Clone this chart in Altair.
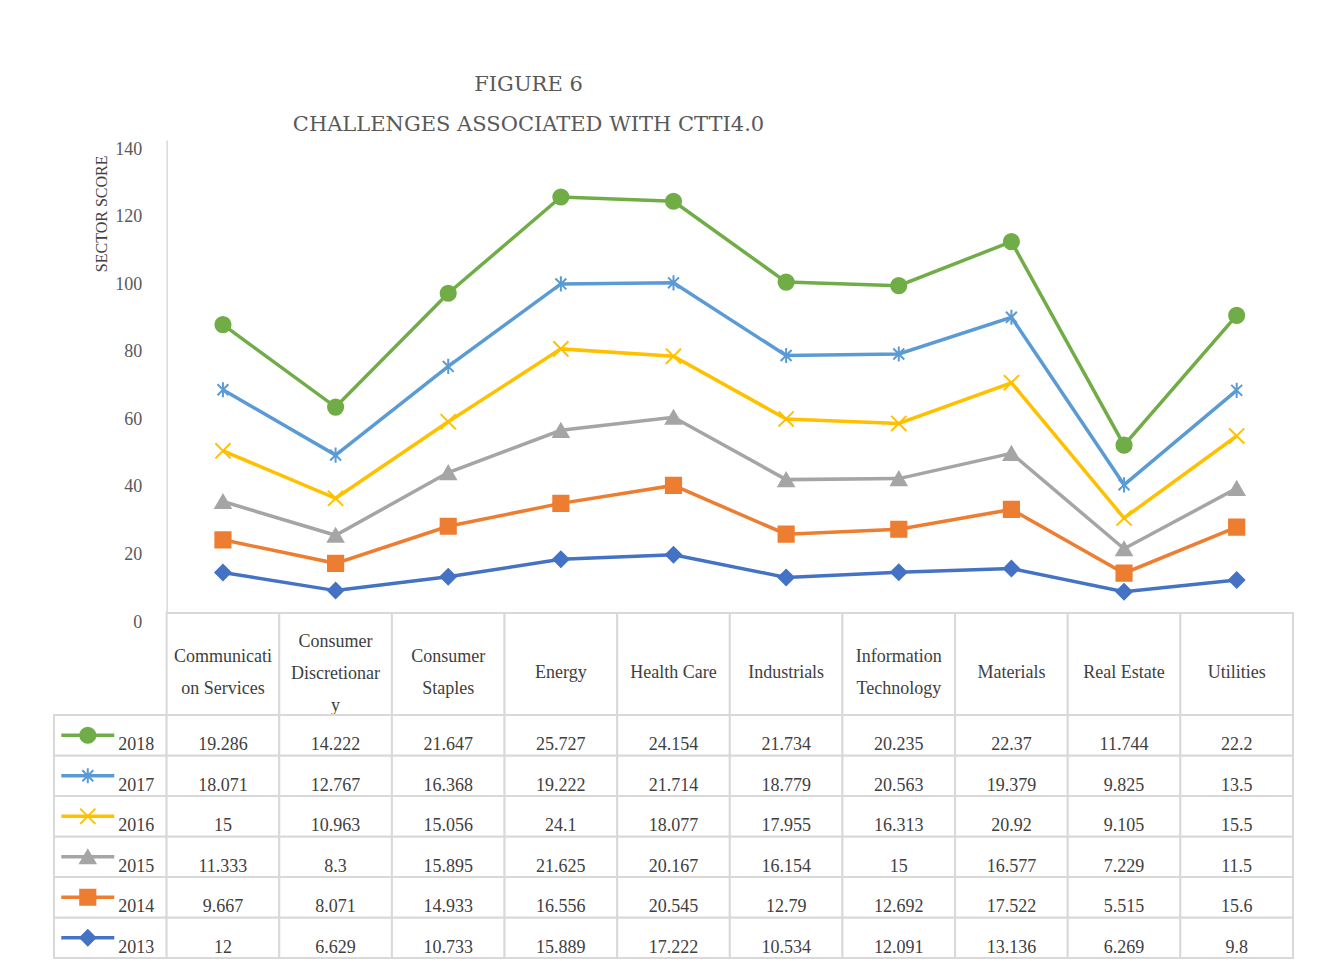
import altair as alt
import pandas as pd

sectors = ["Communication Services", "Consumer Discretionary", "Consumer Staples", "Energy",
           "Health Care", "Industrials", "Information Technology", "Materials", "Real Estate", "Utilities"]
header_labels = ["Communicati\non Services", "Consumer\nDiscretionar\ny", "Consumer\nStaples", "Energy",
                 "Health Care", "Industrials", "Information\nTechnology", "Materials", "Real Estate", "Utilities"]
years = ["2013", "2014", "2015", "2016", "2017", "2018"]
v2013 = [12, 6.629, 10.733, 15.889, 17.222, 10.534, 12.091, 13.136, 6.269, 9.8]
v2014 = [9.667, 8.071, 14.933, 16.556, 20.545, 12.79, 12.692, 17.522, 5.515, 15.6]
v2015 = [11.333, 8.3, 15.895, 21.625, 20.167, 16.154, 15, 16.577, 7.229, 11.5]
v2016 = [15, 10.963, 15.056, 24.1, 18.077, 17.955, 16.313, 20.92, 9.105, 15.5]
v2017 = [18.071, 12.767, 16.368, 19.222, 21.714, 18.779, 20.563, 19.379, 9.825, 13.5]
v2018 = [19.286, 14.222, 21.647, 25.727, 24.154, 21.734, 20.235, 22.37, 11.744, 22.2]
y_ticks = [0, 20, 40, 60, 80, 100, 120, 140]

colors = ["#4472c4", "#ed7d31", "#a5a5a5", "#ffc000", "#5b9bd5", "#70ad47"]
shapes = ["diamond", "square", "triangle-up",
          "M-1,-1L1,1M-1,1L1,-1",
          "M0,-1L0,1M-0.72,-0.72L0.72,0.72M-0.72,0.72L0.72,-0.72",
          "circle"]

series = dict(zip(years, [v2013, v2014, v2015, v2016, v2017, v2018]))
LEG = "_legend"
cols = [LEG] + sectors
FONT = "Liberation Serif"
TXT = "#404040"

# stacked data for the lines
rows = []
for i, s in enumerate(sectors):
    cum = 0.0
    for y in years:
        cum += series[y][i]
        rows.append({"sector": s, "year": y, "cum": cum, "val": series[y][i]})
df = pd.DataFrame(rows)

W = 1239
col_w = W / 11
xscale = alt.Scale(domain=cols, paddingInner=0, paddingOuter=0)
cscale = alt.Scale(domain=years, range=colors)
sscale = alt.Scale(domain=years, range=shapes)

x_enc = alt.X("sector:N", scale=xscale, axis=None)
y_enc = alt.Y("cum:Q", scale=alt.Scale(domain=[0, 140], nice=False),
              axis=alt.Axis(values=y_ticks, offset=-col_w, ticks=False, grid=False,
                            domainColor="#d9d9d9", domainWidth=1.5,
                            labelFont=FONT, labelFontSize=18, labelColor="#595959",
                            labelPadding=25, labelOffset=9,
                            title="SECTOR SCORE", titleFont=FONT, titleFontSize=16,
                            titleFontWeight="normal", titleColor="#404040",
                            titleAngle=-90, titleX=-65, titleY=15, titleAlign="right",
                            titleBaseline="middle"))

lines = alt.Chart(df).mark_line(strokeWidth=3.5).encode(
    x=x_enc, y=y_enc,
    color=alt.Color("year:N", scale=cscale, legend=None),
    detail="year:N",
)
points = alt.Chart(df).mark_point(filled=True, size=230, strokeWidth=2, opacity=1).encode(
    x=x_enc, y="cum:Q",
    color=alt.Color("year:N", scale=cscale, legend=None),
    stroke=alt.Stroke("year:N", scale=cscale, legend=None),
    shape=alt.Shape("year:N", scale=sscale, legend=None),
)
top = alt.layer(lines, points).properties(width=W, height=473)

# header row
hdf = pd.DataFrame({"sector": sectors, "label": header_labels,
                    "nlines": [lab.count("\n") + 1 for lab in header_labels]})
hx = alt.X("sector:N", scale=xscale, axis=None)
hcells = alt.Chart(hdf).mark_rect(fill="white", stroke="#d9d9d9", strokeWidth=2).encode(x=hx)
hlayers = [hcells]
for n, dy in [(1, 9), (2, -7), (3, -22)]:
    hlayers.append(
        alt.Chart(hdf).transform_filter(alt.datum.nlines == n).mark_text(
            font=FONT, fontSize=18, color=TXT, lineBreak="\n", lineHeight=32,
            baseline="middle", dy=dy).encode(x=hx, text="label:N"))
header = alt.layer(*hlayers).properties(width=W, height=102)

# data rows
yorder = years[::-1]
yband = alt.Y("year:N", sort=yorder, scale=alt.Scale(domain=yorder, paddingInner=0, paddingOuter=0), axis=None)
cells = pd.DataFrame([{"sector": c, "year": y} for c in cols for y in years])
body_cells = alt.Chart(cells).mark_rect(fill="white", stroke="#d9d9d9", strokeWidth=2).encode(
    x=alt.X("sector:N", scale=xscale, axis=None), y=yband)
tdf = df.copy()
tdf["txt"] = tdf["val"].map(lambda v: f"{v:g}")
body_text = alt.Chart(tdf).mark_text(font=FONT, fontSize=18, color=TXT, baseline="middle", dy=10).encode(
    x=alt.X("sector:N", scale=xscale, axis=None), y=yband, text="txt:N")
ldf = pd.DataFrame({"sector": [LEG] * 6, "year": years})
lx = alt.X("sector:N", scale=xscale, axis=None, bandPosition=0.3)
leg_line = alt.Chart(ldf).mark_point(filled=False, shape="M-1,0L1,0", size=2809, strokeWidth=3.5,
                                     opacity=1).encode(
    x=lx, y=yband, color=alt.Color("year:N", scale=cscale, legend=None))
leg_pt = alt.Chart(ldf).mark_point(filled=True, size=230, strokeWidth=2, opacity=1).encode(
    x=lx, y=yband,
    color=alt.Color("year:N", scale=cscale, legend=None),
    stroke=alt.Stroke("year:N", scale=cscale, legend=None),
    shape=alt.Shape("year:N", scale=sscale, legend=None))
leg_txt = alt.Chart(ldf).mark_text(font=FONT, fontSize=18, color=TXT, align="left",
                                   baseline="middle", dy=10).encode(
    x=alt.X("sector:N", scale=xscale, axis=None, bandPosition=0.57), y=yband, text="year:N")
body = alt.layer(body_cells, body_text, leg_line, leg_pt, leg_txt).properties(width=W, height=243)

chart = alt.vconcat(top, header, body, spacing=0, bounds="flush").properties(
    title=alt.TitleParams(text=["FIGURE 6", "CHALLENGES ASSOCIATED WITH CTTI4.0"], font="DejaVu Serif",
                          fontSize=21, fontWeight="normal", color="#595959", lineHeight=40,
                          anchor="middle", dx=-145, offset=5),
    padding={"left": 45, "top": 66, "right": 20, "bottom": 2},
    background="white",
).configure_view(stroke=None).resolve_scale(x="shared")

chart.save("out.html", embed_options={"renderer": "svg", "actions": False})
